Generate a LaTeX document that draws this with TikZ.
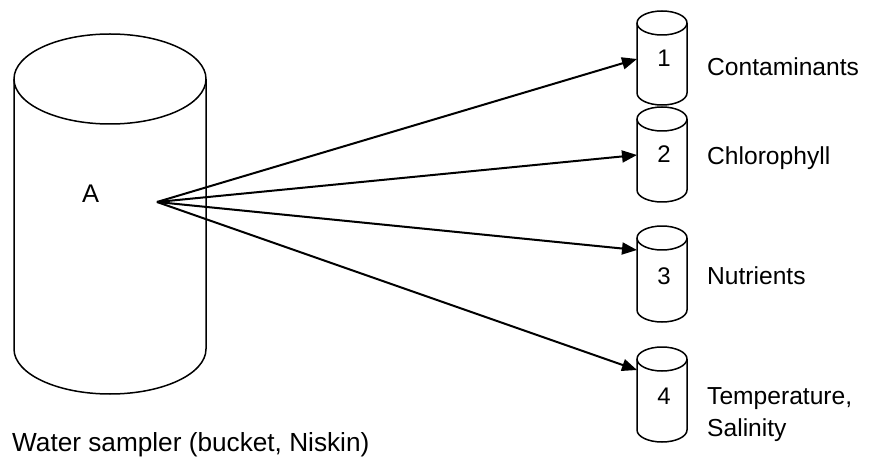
\documentclass[tikz,border=0pt]{standalone}
\usepackage{fontspec}
\setmainfont{Liberation Sans}
\usetikzlibrary{arrows.meta}
\newcommand\smallcyl[3]{%
  \draw[cyl] (#1,#2) ellipse [x radius=25pt, y radius=12pt];
  \draw[cyl] (#1-25,#2) -- (#1-25,#3) arc [start angle=180, end angle=360, x radius=25pt, y radius=12pt] -- (#1+25,#2);}
\begin{document}
\begin{tikzpicture}[x=1pt, y=-1pt, line join=round,
  cyl/.style={draw, line width=1.5pt},
  arr/.style={line width=2pt, -{Triangle[length=15pt,width=12pt]}},
  lbl/.style={font=\fontsize{24.6}{30}\selectfont, anchor=base west, inner sep=0pt},
  num/.style={font=\fontsize{24}{28}\selectfont, anchor=base, inner sep=0pt}]
\useasboundingbox (0,0) rectangle (872,462);
% big cylinder
\draw[cyl] (110,79) ellipse [x radius=96pt, y radius=45pt];
\draw[cyl] (14,79) -- (14,349) arc [start angle=180, end angle=360, x radius=96pt, y radius=45pt] -- (206,79);
\node[lbl, font=\fontsize{25.5}{30}\selectfont] (A) at (82,203) {A};
\node[lbl, font=\fontsize{26.2}{30}\selectfont] (W) at (12,451) {Water sampler (bucket, Niskin)};
\coordinate (src) at (157,202);
% small cylinders
\smallcyl{662}{23}{93}
\smallcyl{662}{119}{190}
\smallcyl{662}{238}{310}
\smallcyl{662}{359}{430}
\coordinate (e1) at (637,59);
\coordinate (e2) at (637,155);
\coordinate (e3) at (637,250);
\coordinate (e4) at (637,370);
\node[num] (n1) at (664,67) {1};
\node[num] (n2) at (664,163) {2};
\node[num] (n3) at (664,284) {3};
\node[num] (n4) at (664,404) {4};
\node[lbl] (t1) at (707,76) {Contaminants};
\node[lbl] (t2) at (707,165) {Chlorophyll};
\node[lbl] (t3) at (707,284) {Nutrients};
\node[lbl] (t4) at (707,404) {Temperature,};
\node[lbl] (t5) at (707,436) {Salinity};
% arrows
\draw[arr] (src) -- (e1);
\draw[arr] (src) -- (e2);
\draw[arr] (src) -- (e3);
\draw[arr] (src) -- (e4);
\end{tikzpicture}
\end{document}
